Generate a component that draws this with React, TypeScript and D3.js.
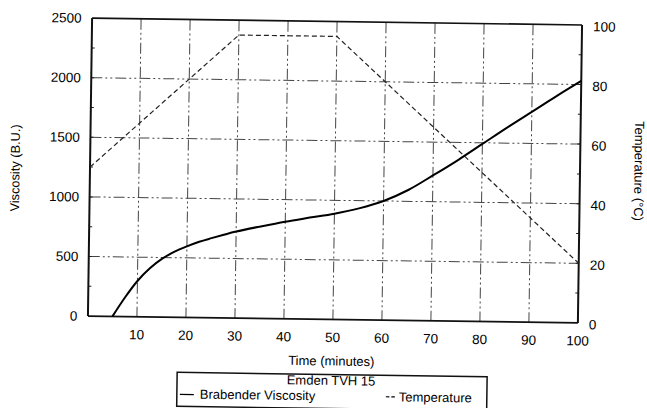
import React from "react";
import * as d3 from "d3";

// ---- data ----
const viscTime = [5, 7.5, 10, 12.5, 15, 17.5, 20, 22.5, 25, 27.5, 30, 35, 40, 45, 50, 55, 60, 65, 70, 75, 80, 85, 90, 95, 100];
const viscValues = [0, 160, 300, 408, 490, 550, 596, 636, 668, 698, 726, 772, 815, 852, 888, 935, 1000, 1095, 1220, 1350, 1490, 1630, 1765, 1900, 2030];
const tempTime = [0, 30, 50, 100];
const tempValues = [50, 95, 95, 20];
const xTicks = [10, 20, 30, 40, 50, 60, 70, 80, 90, 100];
const yLeftTicks = [0, 500, 1000, 1500, 2000, 2500];
const yRightTicks = [0, 20, 40, 60, 80, 100];
const xGrid = [10, 20, 30, 40, 50, 60, 70, 80, 90];
const yGrid = [500, 1000, 1500, 2000];
const legendTitle = "Emden TVH 15";
const seriesNames = ["Brabender Viscosity", "Temperature"];

const W = 647;
const H = 408;
const L = 90, R = 580, T = 21.5, B = 319.5;
const FONT = "'Liberation Sans', Arial, Helvetica, sans-serif";

export default function App() {
  const x = d3.scaleLinear().domain([0, 100]).range([L, R]);
  const yL = d3.scaleLinear().domain([0, 2500]).range([B, T]);
  const yR = d3.scaleLinear().domain([0, 100]).range([B, T]);

  const viscPts: [number, number][] = viscTime.map((t, i) => [t, viscValues[i]]);
  const tempPts: [number, number][] = tempTime.map((t, i) => [t, tempValues[i]]);

  const viscLine = d3
    .line<[number, number]>()
    .x((d) => x(d[0]))
    .y((d) => yL(d[1]))
    .curve(d3.curveCatmullRom.alpha(0.5))(viscPts) as string;
  const tempLine = d3
    .line<[number, number]>()
    .x((d) => x(d[0]))
    .y((d) => yR(d[1]))(tempPts) as string;

  const gridDash = "11 3 2 3 2 3";
  const rightMinor = d3.range(10, 100, 10);
  const leftMinor = d3.range(250, 2500, 250);

  return (
    <svg
      width={W}
      height={H}
      style={{ position: "absolute", left: 0, top: 0, background: "#fff" }}
      fontFamily={FONT}
    >
      <rect x={0} y={0} width={W} height={H} fill="#fff" />
      <g transform="rotate(0.8 335 170)">
        {/* grid */}
        {xGrid.map((t) => (
          <line key={"gx" + t} x1={x(t)} x2={x(t)} y1={T} y2={B} stroke="#444" strokeWidth={1} strokeDasharray={gridDash} />
        ))}
        {yGrid.map((v) => (
          <line key={"gy" + v} x1={L} x2={R} y1={yL(v)} y2={yL(v)} stroke="#444" strokeWidth={1} strokeDasharray={gridDash} />
        ))}

        {/* minor ticks */}
        {rightMinor.map((v) => (
          <line key={"rm" + v} x1={R - 3} x2={R} y1={yR(v)} y2={yR(v)} stroke="#222" strokeWidth={1} />
        ))}
        {leftMinor.map((v) => (
          <line key={"lm" + v} x1={L} x2={L + 3} y1={yL(v)} y2={yL(v)} stroke="#222" strokeWidth={1} />
        ))}

        {/* frame */}
        <line x1={L} x2={R} y1={T} y2={T} stroke="#111" strokeWidth={1.6} />
        <line x1={L} x2={R} y1={B} y2={B} stroke="#111" strokeWidth={1.8} />
        <line x1={L} x2={L} y1={T} y2={B} stroke="#111" strokeWidth={2} />
        <line x1={R} x2={R} y1={T} y2={B} stroke="#111" strokeWidth={2} />

        {/* series */}
        <path d={tempLine} fill="none" stroke="#222" strokeWidth={1.2} strokeDasharray="5 3" />
        <path d={viscLine} fill="none" stroke="#000" strokeWidth={2} />

        {/* left tick labels */}
        {yLeftTicks.map((v) => (
          <text key={"yl" + v} x={L - 10.5} y={yL(v)} dy="0.35em" textAnchor="end" fontSize={13.5} fill="#000">
            {v}
          </text>
        ))}
        {/* right tick labels */}
        {yRightTicks.map((v) => (
          <text key={"yr" + v} x={R + 11} y={yR(v) + 1.5} dy="0.35em" textAnchor="start" fontSize={13.5} fill="#000">
            {v}
          </text>
        ))}
        {/* bottom tick labels */}
        {xTicks.map((t) => (
          <text key={"xt" + t} x={x(t)} y={B + 22.5} textAnchor="middle" fontSize={13.5} fill="#000">
            {t}
          </text>
        ))}

        {/* axis titles */}
        <text x={(L + R) / 2 - 1} y={365.5} textAnchor="middle" fontSize={13} fill="#000">
          Time (minutes)
        </text>
        <text transform="translate(19.5 172.4) rotate(-90)" textAnchor="middle" fontSize={12.8} fill="#000">
          Viscosity (B.U.)
        </text>
        <text transform="translate(634.5 166.8) rotate(90)" textAnchor="middle" fontSize={13} fill="#000">
          Temperature (°C)
        </text>

        {/* legend */}
        <rect x={180} y={374.5} width={310} height={34} fill="none" stroke="#111" strokeWidth={1.5} />
        <text x={334} y={385} textAnchor="middle" fontSize={13} fill="#000">
          {legendTitle}
        </text>
        <line x1={183} x2={197} y1={396.5} y2={396.5} stroke="#000" strokeWidth={1.3} />
        <text x={203} y={400.5} fontSize={13} fill="#000">
          {seriesNames[0]}
        </text>
        <line x1={389} x2={398} y1={396} y2={396} stroke="#000" strokeWidth={1.2} strokeDasharray="3.5 2" />
        <text x={402} y={400.5} fontSize={13} fill="#000">
          {seriesNames[1]}
        </text>
      </g>
    </svg>
  );
}
